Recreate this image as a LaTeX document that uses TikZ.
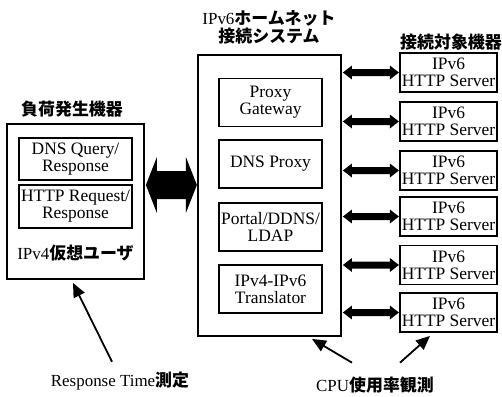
\documentclass[tikz,border=0pt]{standalone}
\usepackage{fontspec}
\setmainfont{Liberation Serif}
\newfontfamily\cjk{Noto Sans CJK JP}
\usetikzlibrary{arrows.meta}

\newcommand\jp[1]{{\cjk\bfseries #1}}

\tikzset{
  box/.style={draw, line width=1.8bp, align=center, inner sep=0pt, font=\fontsize{17.5}{17}\selectfont},
  unit/.style={box, minimum width=103bp, minimum height=48bp},
  srv/.style={box, minimum width=97bp, minimum height=39bp},
  lbl/.style={inner sep=0pt, align=center, font=\fontsize{17}{18}\selectfont},
  ptr/.style={line width=1.8bp, -{Triangle[length=14bp,width=12bp]}},
}

\begin{document}
\begin{tikzpicture}[x=1bp,y=-1bp]
\useasboundingbox (0,0) rectangle (502,396);
% load generator
\node[lbl] (gent) at (72,109) {\jp{負荷発生機器}};
\node[box, minimum width=137bp, minimum height=155bp] (gen) at (75.5,201.5) {};
\node[box, minimum width=113bp, minimum height=42bp] (dns) at (75.5,159) {DNS Query/\\Response};
\node[box, minimum width=113bp, minimum height=43bp] (http) at (75.5,206.5) {HTTP Request/\\Response};
\node[lbl] (user) at (75.5,253) {IPv4\jp{仮想ユーザ}};
% home net system
\node[lbl] (syst) at (269,27) {IPv6\jp{ホームネット}\\\jp{接続システム}};
\node[box, minimum width=143bp, minimum height=281bp] (sys) at (269.5,195.5) {};
\node[unit] (gw) at (270.5,102.5) {Proxy\\Gateway};
\node[unit] (dp) at (270.5,164) {DNS Proxy};
\node[unit] (ptl) at (270.5,227) {Portal/DDNS/\\LDAP};
\node[unit] (tr) at (270.5,289) {IPv4-IPv6\\Translator};
\coordinate (mid) at (170,185);
\fill ([xshift=1bp]gen.east |- mid) -- ++(11,-28) -- ++(0,14) -- ++(29,0) -- ++(0,-14) -- ++(11,28)
  -- ++(-11,28) -- ++(0,-14) -- ++(-29,0) -- ++(0,14) -- cycle;
% servers
\node[lbl] (srvt) at (451,42) {\jp{接続対象機器}};
\foreach \i/\y in {1/72.5,2/121.5,3/170.5,4/216.5,5/265,6/312.5}{
  \node[srv] (s\i) at (448.5,\y) {IPv6\\HTTP Server};
  \fill ([xshift=1bp]sys.east |- s\i.west) -- ++(9,-7) -- ++(0,3.5) -- ++(38,0) -- ++(0,-3.5) -- ++(9,7)
    -- ++(-9,7) -- ++(0,-3.5) -- ++(-38,0) -- ++(0,3.5) -- cycle;
}
% measurement
\node[lbl] (rt) at (120,381) {Response Time\jp{測定}};
\node[lbl] (cpu) at (375,385) {CPU\jp{使用率観測}};
\draw[ptr] ([xshift=-8bp,yshift=10bp]rt.north) -- ([xshift=-2.5bp,yshift=-3bp]gen.south);
\draw[ptr] ([xshift=-23bp,yshift=14bp]cpu.north) -- ([xshift=42.5bp,yshift=-2bp]sys.south);
\draw[ptr] ([xshift=25bp,yshift=14bp]cpu.north) -- ([xshift=-18.5bp,yshift=-3bp]s6.south);
\end{tikzpicture}
\end{document}
